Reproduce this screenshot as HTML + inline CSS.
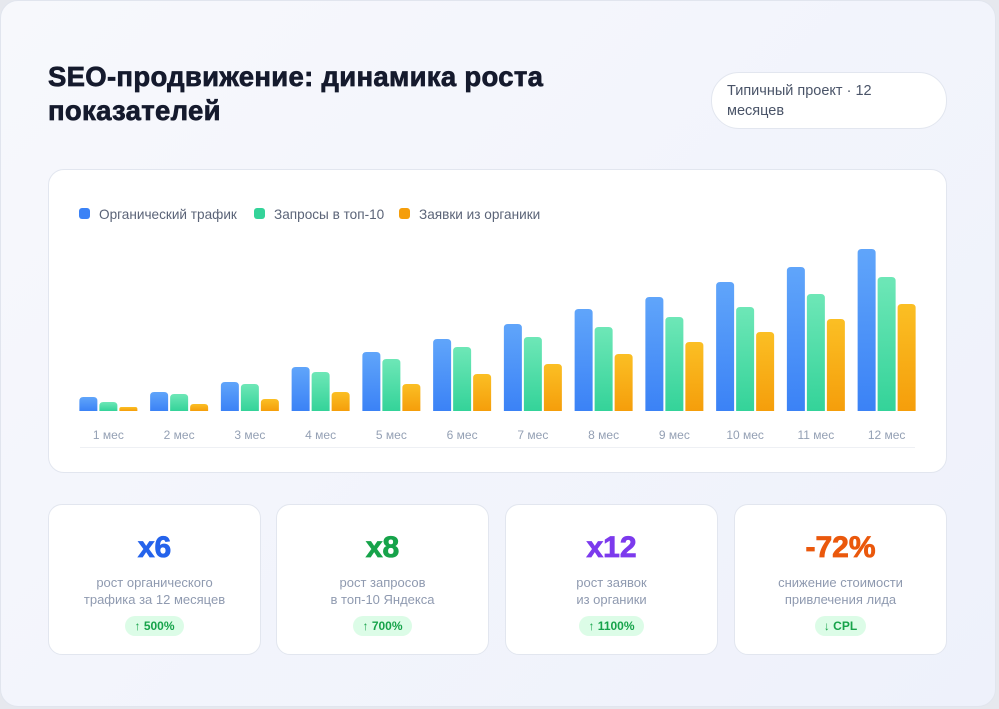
<!DOCTYPE html>
<html><head><meta charset="utf-8"><style>
*{box-sizing:border-box;margin:0;padding:0}
body{width:999px;height:709px;background:#e6e8ee;font-family:"Liberation Sans","DejaVu Sans",sans-serif;overflow:hidden;position:relative}
.page{position:absolute;left:0;top:0;width:996px;height:707px;border-radius:18px;background:linear-gradient(135deg,#f7f8fc,#eef1fb);border:1px solid #e1e5ee}
.title{position:absolute;left:48px;top:60px;font-size:27.5px;font-weight:bold;color:#151a2d;line-height:34px;width:600px;letter-spacing:0.3px;-webkit-text-stroke:0.7px #151a2d}
.badge{position:absolute;left:711px;top:72px;width:236px;height:57px;border-radius:28px;background:#fff;border:1px solid #e2e6ef;color:#4a5468;font-size:14.5px;line-height:20px;padding:8px 0 0 15px}
.chart{position:absolute;left:48px;top:169px;width:899px;height:304px;background:#fff;border:1px solid #e2e6ef;border-radius:16px}
.stat{position:absolute;top:504px;width:213px;height:151px;background:#fff;border:1px solid #e2e6ef;border-radius:14px;text-align:center}
.big{margin-top:26px;font-size:30px;font-weight:bold;line-height:34px;-webkit-text-stroke:0.8px currentColor}
.desc{margin-top:9px;font-size:13px;color:#8f9ab0;line-height:17px}
.pill{display:inline-block;margin-top:8px;background:#dcfce7;color:#16a34a;font-size:12px;font-weight:bold;border-radius:11px;padding:3px 9px}
</style></head><body>
<div class="page"></div>
<div class="title">SEO-продвижение: динамика роста<br>показателей</div>
<div class="badge">Типичный проект · 12<br>месяцев</div>
<div class="chart"></div>
<svg id="svg" width="999" height="709" style="position:absolute;left:0;top:0">
<defs>
<linearGradient id="gb" x1="0" y1="0" x2="0" y2="1"><stop offset="0" stop-color="#60a5fa"/><stop offset="1" stop-color="#3b82f6"/></linearGradient>
<linearGradient id="gg" x1="0" y1="0" x2="0" y2="1"><stop offset="0" stop-color="#6ee7b7"/><stop offset="1" stop-color="#34d399"/></linearGradient>
<linearGradient id="go" x1="0" y1="0" x2="0" y2="1"><stop offset="0" stop-color="#fbbf24"/><stop offset="1" stop-color="#f59e0b"/></linearGradient>
</defs>
</svg>
<div class="stat" style="left:48px"><div class="big" style="color:#2563eb">x6</div><div class="desc">рост органического<br>трафика за 12 месяцев</div><div class="pill">↑ 500%</div></div>
<div class="stat" style="left:276px"><div class="big" style="color:#16a34a">x8</div><div class="desc">рост запросов<br>в топ-10 Яндекса</div><div class="pill">↑ 700%</div></div>
<div class="stat" style="left:505px"><div class="big" style="color:#7c3aed">x12</div><div class="desc">рост заявок<br>из органики</div><div class="pill">↑ 1100%</div></div>
<div class="stat" style="left:734px"><div class="big" style="color:#ea580c">-72%</div><div class="desc">снижение стоимости<br>привлечения лида</div><div class="pill">↓ CPL</div></div>
<script>
const categories=["1 мес","2 мес","3 мес","4 мес","5 мес","6 мес","7 мес","8 мес","9 мес","10 мес","11 мес","12 мес"];
const traffic=[14,19,29,44,59,72,87,102,114,129,144,162];
const queries=[9,17,27,39,52,64,74,84,94,104,117,134];
const leads=[4,7,12,19,27,37,47,57,69,79,92,107];
const seriesNames=["Органический трафик","Запросы в топ-10","Заявки из органики"];
const NS="http://www.w3.org/2000/svg",svg=document.getElementById('svg');
const base=411,x0=73,step=70.75,yMax=162,hMax=162;
const y=v=>base-v/yMax*hMax;
const xc=i=>x0+step*(i+0.5);
function mk(t,a){const e=document.createElementNS(NS,t);for(const k in a)e.setAttribute(k,a[k]);svg.appendChild(e);return e;}
const fills=["url(#gb)","url(#gg)","url(#go)"],sw=["#3b82f6","#34d399","#f59e0b"];
const series=[traffic,queries,leads];
const names=["bar-traffic","bar-queries","bar-leads"];
series.forEach((s,si)=>s.forEach((v,i)=>{
 const bx=xc(i)-29+si*20,top=y(v),h=base-top,r=Math.min(4,h/2);
 const p=mk('path',{d:`M${bx},${base}V${top+r}Q${bx},${top} ${bx+r},${top}H${bx+18-r}Q${bx+18},${top} ${bx+18},${top+r}V${base}Z`,fill:fills[si]});
 
 
}));
mk('line',{x1:80,x2:915,y1:447.5,y2:447.5,stroke:'#eef0f4'});
categories.forEach((c,i)=>{const t=mk('text',{x:xc(i),y:439,'text-anchor':'middle','font-size':12,fill:'#94a0b4'});t.textContent=c;
 
 });
const lx=[79,254,399];
seriesNames.forEach((n,i)=>{
 const r=mk('rect',{x:lx[i],y:208,width:11,height:11,rx:3,fill:sw[i]});
 
 
 const t=mk('text',{x:lx[i]+20,y:219,'font-size':13.6,fill:'#5b6478'});t.textContent=n;
 
 
});
</script>
</body></html>
